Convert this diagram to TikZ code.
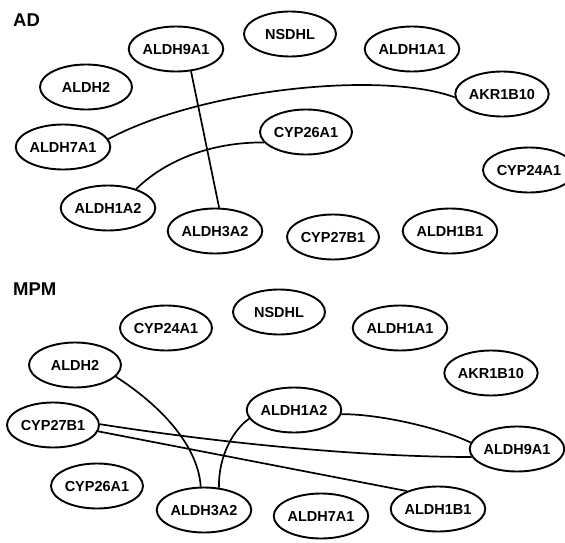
\documentclass[tikz,border=0pt]{standalone}
\usepackage{fontspec}
\setmainfont{Liberation Sans}
\usetikzlibrary{shapes.geometric}

\tikzset{
  gene/.style={ellipse, draw=black, line width=1.9pt, fill=white,
    minimum width=92pt, minimum height=45pt, inner sep=0pt,
    text height=10.5pt, text depth=0pt,
    font=\fontsize{14.5}{16}\selectfont\bfseries},
  panel/.style={anchor=west, inner sep=0pt, text height=13pt, text depth=0pt,
    font=\fontsize{18.5}{20}\selectfont\bfseries},
  link/.style={line width=1.7pt, black}
}

\begin{document}
\begin{tikzpicture}[x=1pt, y=-1pt]
\clip (0,0) rectangle (565,543);
\fill[white] (0,0) rectangle (565,543);

% ---------- AD network ----------
\node[panel] (labAD) at (13,20) {AD};

\node[gene] (adALDHnineAone) at (176,49)  {ALDH9A1};
\node[gene] (adNSDHL)        at (290,34)  {NSDHL};
\node[gene] (adALDHoneAone)  at (412,49)  {ALDH1A1};
\node[gene] (adALDHtwo)      at (86,87)   {ALDH2};
\node[gene] (adAKR)          at (502,94)  {AKR1B10};
\node[gene] (adALDHsevenA)   at (63,147)  {ALDH7A1};
\node[gene] (adCYPtwentysix) at (306,132) {CYP26A1};
\node[gene] (adCYPtwentyfour)at (529,170) {CYP24A1};
\node[gene] (adALDHoneAtwo)  at (108,208) {ALDH1A2};
\node[gene] (adALDHthreeA)   at (215,231) {ALDH3A2};
\node[gene] (adCYPtwentyseven) at (333,237) {CYP27B1};
\node[gene] (adALDHoneBone)  at (450,231) {ALDH1B1};

\draw[link] (adALDHnineAone.-56) -- (adALDHthreeA.80);
\draw[link] (adALDHsevenA.10) .. controls (200,90) and (380,70) .. (adAKR.184);
\draw[link] (adALDHoneAtwo.34) .. controls (168,158) and (215,142) .. (adCYPtwentysix.194);

% ---------- MPM network ----------
\node[panel] (labMPM) at (13,289) {MPM};

\node[gene] (mpCYPtwentyfour)  at (166,328) {CYP24A1};
\node[gene] (mpNSDHL)          at (279,312) {NSDHL};
\node[gene] (mpALDHoneAone)    at (400,328) {ALDH1A1};
\node[gene] (mpAKR)            at (491,373) {AKR1B10};
\node[gene] (mpALDHtwo)        at (75,365)  {ALDH2};
\node[gene] (mpALDHoneAtwo)    at (294,410) {ALDH1A2};
\node[gene] (mpCYPtwentyseven) at (53,425)  {CYP27B1};
\node[gene] (mpALDHnineAone)   at (517,449) {ALDH9A1};
\node[gene] (mpCYPtwentysix)   at (97,486)  {CYP26A1};
\node[gene] (mpALDHthreeA)     at (204,510) {ALDH3A2};
\node[gene] (mpALDHsevenA)     at (321,516) {ALDH7A1};
\node[gene] (mpALDHoneBone)    at (438,509) {ALDH1B1};

\draw[link] (mpALDHtwo.-16) .. controls (160,405) and (198,445) .. (mpALDHthreeA.98);
\draw[link] (mpALDHoneAtwo.191) .. controls (235,428) and (218,455) .. (mpALDHthreeA.56);
\draw[link] (mpCYPtwentyseven.1) .. controls (200,440) and (350,457) .. (mpALDHnineAone.190);
\draw[link] (mpCYPtwentyseven.-8) -- (mpALDHoneBone.150);
\draw[link] (mpALDHoneAtwo.-5) .. controls (380,414) and (440,428) .. (mpALDHnineAone.172);
\end{tikzpicture}
\end{document}
